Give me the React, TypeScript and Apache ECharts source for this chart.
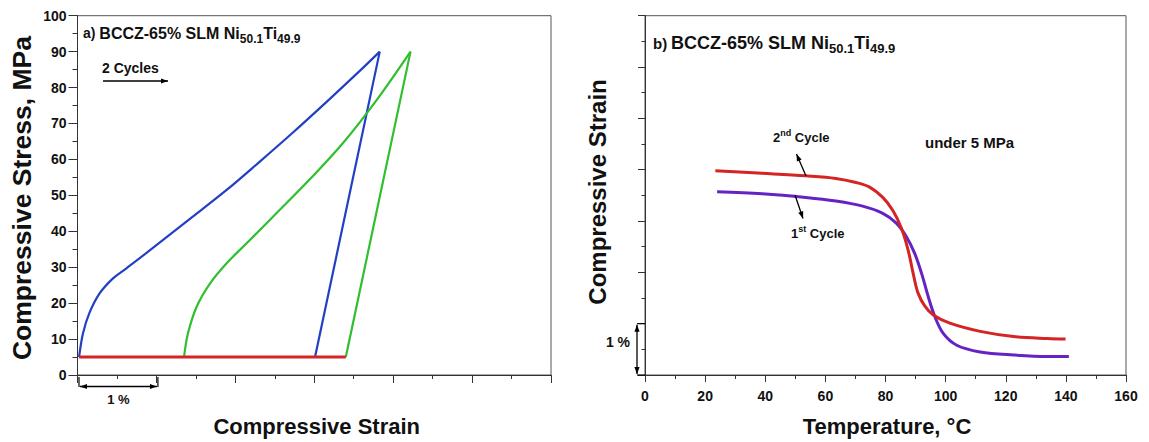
import React, { useEffect, useRef } from "react";
import * as echarts from "echarts";

// ---------- data (a): stress-strain, strain in %, stress in MPa ----------
const cycle1Loading: number[][] = [
  [0.02, 5], [0.07, 11.6], [0.15, 17.2], [0.28, 22.7], [0.45, 26.9], [0.62, 29.7],
  [0.87, 33.9], [1.38, 42.7], [1.89, 51.5], [2.31, 59.4], [2.73, 67.5], [3.16, 76.1],
  [3.58, 84.7], [3.83, 90],
];
const cycle1Unloading: number[][] = [[3.83, 90], [3.42, 47.5], [3.01, 5]];
const cycle2Loading: number[][] = [
  [1.35, 5], [1.4, 11.6], [1.51, 19], [1.68, 25.5], [1.89, 31.1], [2.14, 36.6],
  [2.52, 45], [2.95, 54.6], [3.37, 64.7], [3.79, 76.5], [4.22, 90],
];
const cycle2Unloading: number[][] = [[4.22, 90], [3.81, 47.5], [3.4, 5]];
const heatingLine: number[][] = [[0.02, 5], [3.4, 5]];

// ---------- data (b): strain vs temperature under 5 MPa ----------
const secondCycle: number[][] = [
  [23.4, 3.98], [39, 3.93], [53.5, 3.88], [63.5, 3.83], [70.2, 3.75], [74.7, 3.66],
  [79.1, 3.46], [82.5, 3.2], [85.3, 2.86], [87.5, 2.44], [89.2, 1.98], [90.8, 1.6],
  [93.1, 1.34], [95.9, 1.17], [101.4, 1.01], [111.5, 0.85], [122.6, 0.75], [133.8, 0.71],
  [139.9, 0.7],
];
const firstCycle: number[][] = [
  [24, 3.57], [39, 3.53], [53.5, 3.46], [63.5, 3.39], [72.4, 3.29], [79.1, 3.15],
  [83.6, 2.96], [87, 2.69], [89.7, 2.37], [92, 1.98], [94.2, 1.53], [96.4, 1.14],
  [99.2, 0.81], [103.7, 0.58], [111.5, 0.45], [122.6, 0.39], [133.8, 0.36], [141, 0.36],
];

const FONT = '"Liberation Sans", Arial, sans-serif';
const INK = "#111";
const AXIS = "#333";

function arrowHead(tipX: number, tipY: number, fromX: number, fromY: number, len = 7, half = 2.6) {
  const dx = tipX - fromX;
  const dy = tipY - fromY;
  const L = Math.sqrt(dx * dx + dy * dy) || 1;
  const ux = dx / L, uy = dy / L;
  const bx = tipX - ux * len, by = tipY - uy * len;
  const px = -uy, py = ux;
  return {
    type: "polygon",
    z: 100,
    shape: { points: [[tipX, tipY], [bx + px * half, by + py * half], [bx - px * half, by - py * half]] },
    style: { fill: "#000" },
    silent: true,
  };
}
function seg(x1: number, y1: number, x2: number, y2: number, w = 1.3) {
  return { type: "line", z: 100, shape: { x1, y1, x2, y2 }, style: { stroke: "#000", lineWidth: w }, silent: true };
}
function arrow(x1: number, y1: number, x2: number, y2: number) {
  return [seg(x1, y1, x2, y2), arrowHead(x2, y2, x1, y1)];
}
function dblArrow(x1: number, y1: number, x2: number, y2: number) {
  return [seg(x1, y1, x2, y2), arrowHead(x2, y2, x1, y1), arrowHead(x1, y1, x2, y2)];
}

const titleRich = (main: number, sub: number, pre: number) => ({
  p: { fontSize: pre, fontWeight: "bold", fontFamily: FONT, color: INK, lineHeight: 24 },
  m: { fontSize: main, fontWeight: "bold", fontFamily: FONT, color: INK, lineHeight: 24 },
  sub: { fontSize: sub, fontWeight: "bold", fontFamily: FONT, color: INK, verticalAlign: "bottom" },
});
const cycleRich = {
  a: { fontSize: 13, fontWeight: "bold", fontFamily: FONT, color: INK, lineHeight: 18 },
  sup: { fontSize: 9, fontWeight: "bold", fontFamily: FONT, color: INK, verticalAlign: "top" },
};

function txt(x: number, y: number, text: string, opts: any = {}) {
  return {
    type: "text",
    z: 100,
    x,
    y,
    rotation: opts.rotation || 0,
    silent: true,
    style: {
      text,
      fontSize: opts.fontSize || 14,
      fontWeight: "bold",
      fontFamily: FONT,
      fill: INK,
      align: opts.align || "left",
      verticalAlign: "middle",
      rich: opts.rich,
    },
  };
}

export default function App() {
  const ref = useRef<HTMLDivElement>(null);
  useEffect(() => {
    if (!ref.current) return;
    const chart = echarts.init(ref.current, null, { renderer: "svg" });
    const lineStyleAxis = { color: AXIS, width: 1 };
    const curve = (xi: number, data: number[][], color: string, width: number, smooth: number, z: number) => ({
      type: "line", xAxisIndex: xi, yAxisIndex: xi, data, showSymbol: false, smooth,
      lineStyle: { color, width }, z,
    });
    const option: any = {
      animation: false,
      backgroundColor: "#fff",
      grid: [
        { left: 77.5, top: 15.7, width: 473.5, height: 359.3, show: true, borderColor: "#555", borderWidth: 1 },
        { left: 645, top: 15.7, width: 481, height: 359.3, show: true, borderColor: "#555", borderWidth: 1 },
      ],
      xAxis: [
        {
          gridIndex: 0, type: "value", min: 0, max: 6, interval: 1,
          axisLine: { show: true, onZero: false, lineStyle: lineStyleAxis },
          axisTick: { show: true, length: 8, lineStyle: lineStyleAxis },
          minorTick: { show: true, splitNumber: 2, length: 4, lineStyle: lineStyleAxis },
          axisLabel: { show: false },
          splitLine: { show: false },
        },
        {
          gridIndex: 1, type: "value", min: 0, max: 160, interval: 20,
          axisLine: { show: true, onZero: false, lineStyle: lineStyleAxis },
          axisTick: { show: true, length: 7, lineStyle: lineStyleAxis },
          minorTick: { show: true, splitNumber: 2, length: 4, lineStyle: lineStyleAxis },
          axisLabel: { show: true, fontSize: 14, fontWeight: "bold", fontFamily: FONT, color: INK, margin: 14 },
          splitLine: { show: false },
        },
      ],
      yAxis: [
        {
          gridIndex: 0, type: "value", min: 0, max: 100, interval: 10,
          axisLine: { show: true, onZero: false, lineStyle: lineStyleAxis },
          axisTick: { show: true, length: 9, lineStyle: lineStyleAxis },
          minorTick: { show: true, splitNumber: 2, length: 5, lineStyle: lineStyleAxis },
          axisLabel: { show: true, fontSize: 14, fontWeight: "bold", fontFamily: FONT, color: INK, margin: 11 },
          splitLine: { show: false },
        },
        {
          gridIndex: 1, type: "value", min: 0, max: 7, interval: 1,
          axisLine: { show: true, onZero: false, lineStyle: lineStyleAxis },
          axisTick: { show: true, length: 7, lineStyle: lineStyleAxis },
          minorTick: { show: true, splitNumber: 2, length: 3.5, lineStyle: lineStyleAxis },
          axisLabel: { show: false },
          splitLine: { show: false },
        },
      ],
      series: [
        curve(0, cycle1Loading, "#2340c4", 2.2, 0.35, 3),
        curve(0, cycle1Unloading, "#2340c4", 2.2, 0, 3),
        curve(0, cycle2Loading, "#2fbf2f", 2.2, 0.35, 3),
        curve(0, cycle2Unloading, "#2fbf2f", 2.2, 0, 3),
        curve(0, heatingLine, "#d42424", 3, 0, 4),
        curve(1, secondCycle, "#d42424", 3, 0.35, 4),
        curve(1, firstCycle, "#6623c4", 3, 0.35, 3),
      ],
    };
    chart.setOption(option);

    const p0 = chart.convertToPixel({ gridIndex: 0 }, [0, 0]) as number[];
    const p1 = chart.convertToPixel({ gridIndex: 0 }, [1, 0]) as number[];
    const q0 = chart.convertToPixel({ gridIndex: 1 }, [0, 0]) as number[];
    const q1 = chart.convertToPixel({ gridIndex: 1 }, [0, 1]) as number[];
    const lx0 = p0[0] + 1.5, lx1 = p1[0] + 1.5, ly = p0[1] + 2;
    const bx = q0[0] - 8, by0 = q1[1], by1 = q0[1];

    const graphic: any[] = [
      txt(83, 33, "{p|a)} {m|BCCZ-65% SLM Ni}{sub|50.1}{m|Ti}{sub|49.9}", { rich: titleRich(16, 12, 14) }),
      txt(102, 68, "2 Cycles", { fontSize: 14 }),
      ...arrow(103, 81, 168, 81),
      seg(lx0, ly, lx0, ly + 10, 1.2),
      seg(lx1, ly, lx1, ly + 10, 1.2),
      ...dblArrow(lx0 + 1, ly + 9.5, lx1 - 1, ly + 9.5),
      txt((lx0 + lx1) / 2, 399, "1 %", { fontSize: 13, align: "center" }),
      txt(316.7, 426, "Compressive Strain", { fontSize: 22, align: "center" }),
      txt(22, 198, "Compressive Stress, MPa", { fontSize: 26.5, align: "center", rotation: Math.PI / 2 }),
      txt(887, 426, "Temperature, °C", { fontSize: 22, align: "center" }),
      txt(597, 192, "Compressive Strain", { fontSize: 24, align: "center", rotation: Math.PI / 2 }),
      txt(653, 43, "{p|b)} {m|BCCZ-65% SLM Ni}{sub|50.1}{m|Ti}{sub|49.9}", { rich: titleRich(18, 13, 15) }),
      txt(773, 137, "{a|2}{sup|nd}{a| Cycle}", { rich: cycleRich }),
      txt(791, 233, "{a|1}{sup|st}{a| Cycle}", { rich: cycleRich }),
      txt(925, 142, "under 5 MPa", { fontSize: 15 }),
      ...arrow(806, 176, 796.5, 154),
      ...arrow(795, 195, 803, 218.5),
      seg(bx, by0, q0[0], by0, 1.2),
      seg(bx, by1, q0[0], by1, 1.2),
      ...dblArrow(bx, by0 + 1, bx, by1 - 1),
      txt(618, 342, "1 %", { fontSize: 14, align: "center" }),
    ];
    chart.setOption({ graphic });
    return () => chart.dispose();
  }, []);
  return (
    <div
      ref={ref}
      style={{ position: "absolute", left: 0, top: 0, width: 1149, height: 442, background: "#fff" }}
    />
  );
}
